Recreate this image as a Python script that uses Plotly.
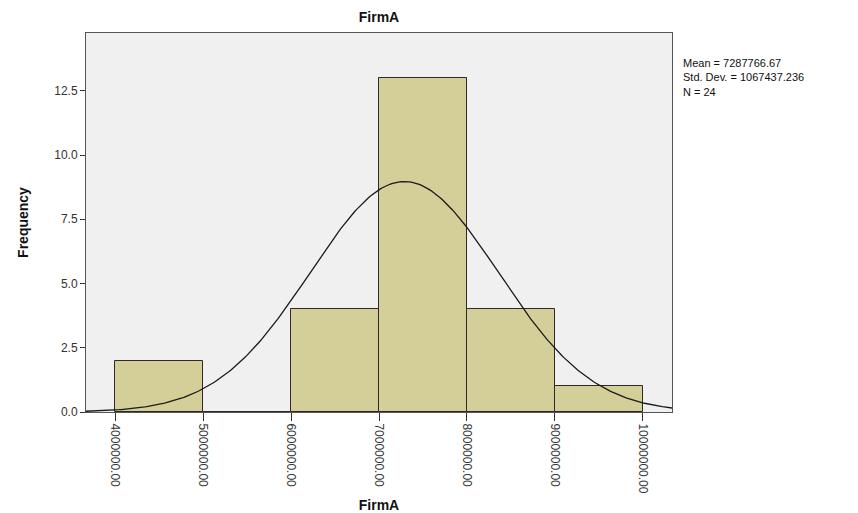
import numpy as np
import plotly.graph_objects as go

bin_starts = [4000000, 5000000, 6000000, 7000000, 8000000, 9000000]
bin_width = 1000000
counts = [2, 0, 4, 13, 4, 1]
tick_vals = [4000000, 5000000, 6000000, 7000000, 8000000, 9000000, 10000000]
y_ticks = [0, 2.5, 5.0, 7.5, 10.0, 12.5]
mean = 7287766.67
std = 1067437.236
n = 24

centers = [s + bin_width / 2 for s in bin_starts]
xs = np.linspace(3670000, 10330000, 300)
ys = n * bin_width / (std * np.sqrt(2 * np.pi)) * np.exp(-0.5 * ((xs - mean) / std) ** 2)

fig = go.Figure()
fig.add_trace(go.Bar(x=centers, y=counts, width=[bin_width] * len(counts),
                     marker=dict(color="#D4CF98", line=dict(color="#2a2a2a", width=1)),
                     showlegend=False, hoverinfo="skip"))
fig.add_trace(go.Scatter(x=xs, y=ys, mode="lines", line=dict(color="#1a1a1a", width=1.3),
                         showlegend=False, hoverinfo="skip"))

fig.update_layout(
    width=858, height=513,
    margin=dict(l=86, r=186, t=33, b=101),
    paper_bgcolor="white", plot_bgcolor="#F0F0F0",
    bargap=0,
    font=dict(family="Arial, Liberation Sans", size=12, color="#333333"),
    title=dict(text="<b>FirmA</b>", x=379 / 858, xanchor="center",
               y=1 - 17 / 513, yanchor="middle", font=dict(size=14, color="#111111")),
    xaxis=dict(range=[3670000, 10330000], tickvals=tick_vals, tickformat=".2f",
               tickangle=90, ticks="outside", ticklen=8, tickcolor="#333333",
               automargin=False,
               showgrid=False, zeroline=False, showline=True, linecolor="#555555", linewidth=1,
               mirror=True,
               title=dict(text="<b>FirmA</b>", font=dict(size=14, color="#111111"), standoff=14)),
    yaxis=dict(range=[0, 14.75], tickvals=y_ticks, tickformat=".1f", ticks="outside",
               ticklen=5, tickcolor="#333333", automargin=False,
               showgrid=False, zeroline=False, showline=True, linecolor="#555555", linewidth=1,
               mirror=True,
               title=dict(text="<b>Frequency</b>", font=dict(size=14, color="#111111"), standoff=22)),
    annotations=[dict(text="Mean = 7287766.67<br>Std. Dev. = 1067437.236<br>N = 24",
                      xref="paper", yref="paper", x=1.015, y=(412 - 55) / (412 - 33),
                      xanchor="left", yanchor="top", align="left", showarrow=False,
                      font=dict(size=11, color="#111111"))],
)

fig.write_html("out.html")
